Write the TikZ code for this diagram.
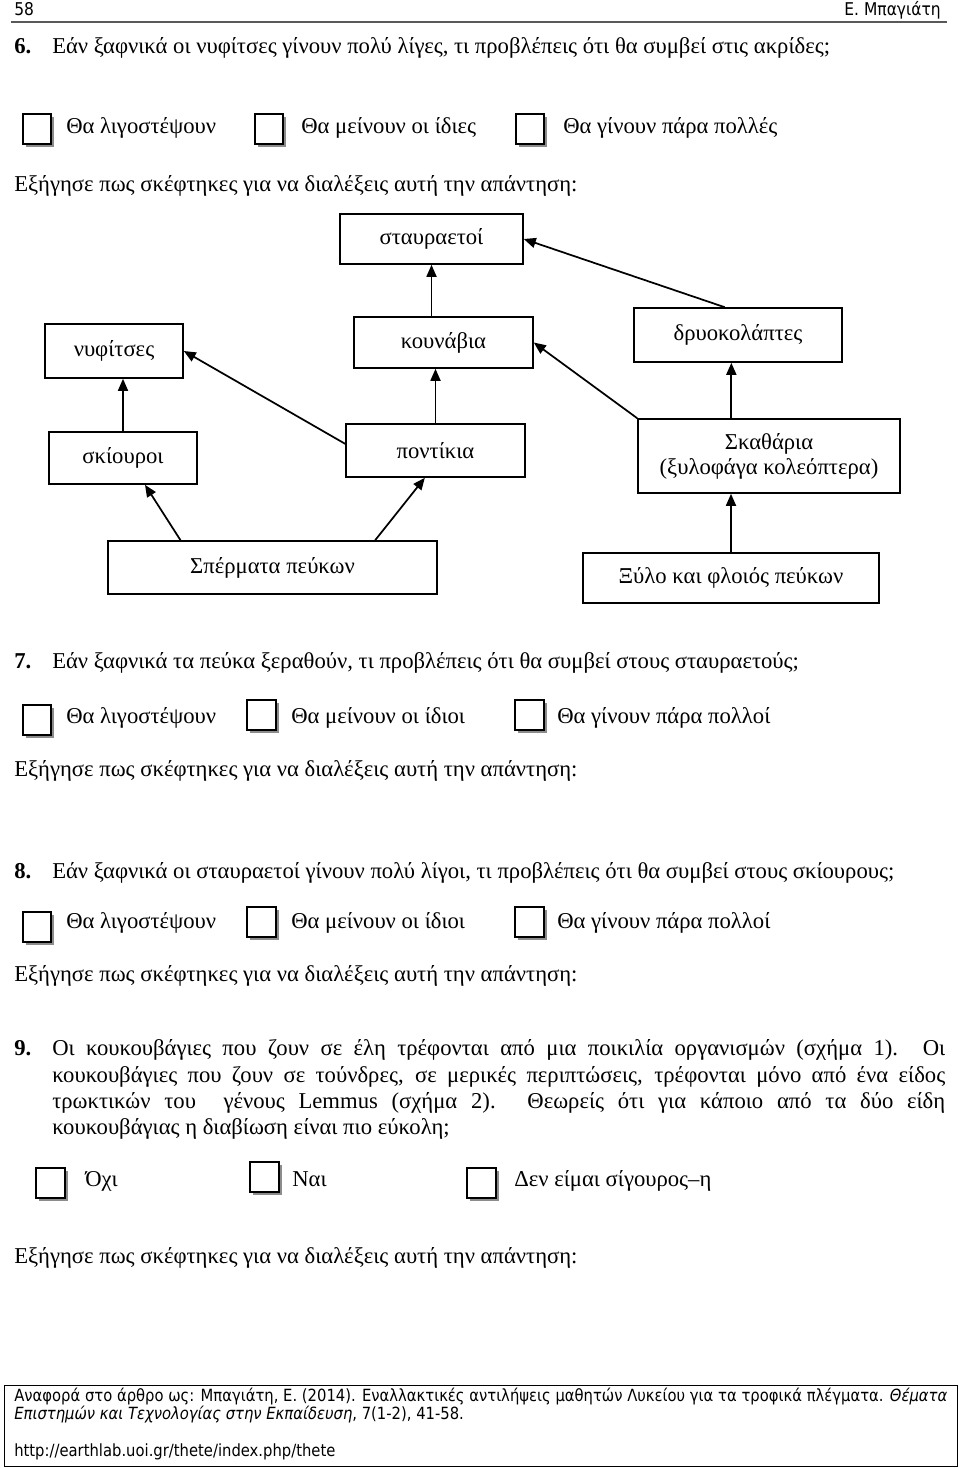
\documentclass[tikz,border=0pt]{standalone}
\usepackage{fontspec}
\setmainfont{Liberation Serif}
\newfontfamily\citefont[FakeStretch=0.88]{DejaVu Sans}
\usetikzlibrary{positioning,arrows.meta,shadows}

\tikzset{
  fwbox/.style={draw,line width=1.2pt,align=center,inner sep=0pt,font=\fontsize{17}{18.75}\selectfont},
  feeds/.style={-{Triangle[length=9pt,width=7.5pt]},line width=1.3pt},
  tickbox/.style={draw,line width=1.3pt,fill=white,minimum width=21.5pt,minimum height=22pt,inner sep=0pt,
    drop shadow={shadow xshift=2.2pt,shadow yshift=-2.2pt,fill=black!45,opacity=1}},
  txt/.style={inner sep=0pt,anchor=mid west,yshift=-1.5pt,font=\fontsize{17}{20}\selectfont},
  qnum/.style={txt,font=\fontsize{17}{20}\selectfont\bfseries},
  citetxt/.style={inner sep=0pt,anchor=mid west,font=\citefont\fontsize{12.6}{15}\selectfont},
}

\begin{document}
\begin{tikzpicture}[x=0.75pt,y=-0.75pt]
  \useasboundingbox (0,0) rectangle (960,1468);

  % page head
  \node[inner sep=0pt,anchor=mid west,font=\citefont\fontsize{13.2}{15}\selectfont] (pageno) at (14,12) {58};
  \node[inner sep=0pt,anchor=mid east,font=\citefont\fontsize{13.2}{15}\selectfont] (author) at (941,12) {Ε. Μπαγιάτη};
  \draw[black!65,line width=0.9pt] (11,22) -- (947,22);

  % question 6
  \node[qnum] (n6) at (14,48) {6.};
  \node[txt] (q6) at (52,48) {Εάν ξαφνικά οι νυφίτσες γίνουν πολύ λίγες, τι προβλέπεις ότι θα συμβεί στις ακρίδες;};
  \node[tickbox] (c6a) at (37,129) {};
  \node[tickbox] (c6b) at (269,129) {};
  \node[tickbox] (c6c) at (530,129) {};
  \node[txt] (a6a) at (66,128) {Θα λιγοστέψουν};
  \node[txt] (a6b) at (301,128) {Θα μείνουν οι ίδιες};
  \node[txt] (a6c) at (563,128) {Θα γίνουν πάρα πολλές};
  \node[txt] (e6) at (14,186) {Εξήγησε πως σκέφτηκες για να διαλέξεις αυτή την απάντηση:};

  % food web
  \node[fwbox,minimum width=137.25pt,minimum height=37.5pt] (eagles) at (431.5,239) {σταυραετοί};
  \node[fwbox,minimum width=134.25pt,minimum height=38.25pt] (martens) at (443.5,342.5) {κουνάβια};
  \node[fwbox,minimum width=103.5pt,minimum height=40.5pt] (weasels) at (114,351) {νυφίτσες};
  \node[fwbox,minimum width=156pt,minimum height=40.5pt] (woodpk) at (738,335) {δρυοκολάπτες};
  \node[fwbox,minimum width=111pt,minimum height=39pt] (squirrels) at (123,458) {σκίουροι};
  \node[fwbox,minimum width=134.25pt,minimum height=39.75pt] (mice) at (435.5,450.5) {ποντίκια};
  \node[fwbox,minimum width=196.5pt,minimum height=55.5pt] (beetles) at (769,456) {Σκαθάρια\\(ξυλοφάγα κολεόπτερα)};
  \node[fwbox,minimum width=246.75pt,minimum height=39.75pt] (seeds) at (272.5,567.5) {Σπέρματα πεύκων};
  \node[fwbox,minimum width=222pt,minimum height=37.5pt] (wood) at (731,578) {Ξύλο και φλοιός πεύκων};

  \draw[feeds] (eagles.south |- martens.north) -- (eagles.south);
  \draw[feeds] ([xshift=-10pt]woodpk.north) -- (eagles.east);
  \draw[feeds] ([yshift=5pt]mice.west) -- (weasels.east);
  \draw[feeds] (squirrels.north) -- (squirrels.north |- weasels.south);
  \draw[feeds] (mice.north) -- (mice.north |- martens.south);
  \draw[feeds] (beetles.north west) -- (martens.east);
  \draw[feeds] ([xshift=-5pt]woodpk.south |- beetles.north) -- ([xshift=-5pt]woodpk.south);
  \draw[feeds] ([xshift=-69pt]seeds.north) -- ([xshift=16.5pt]squirrels.south);
  \draw[feeds] ([xshift=77pt]seeds.north) -- ([xshift=-8pt]mice.south);
  \draw[feeds] (wood.north) -- (wood.north |- beetles.south);

  % question 7
  \node[qnum] (n7) at (14,663) {7.};
  \node[txt] (q7) at (52,663) {Εάν ξαφνικά τα πεύκα ξεραθούν, τι προβλέπεις ότι θα συμβεί στους σταυραετούς;};
  \node[tickbox] (c7a) at (37,720) {};
  \node[tickbox] (c7b) at (261.5,715) {};
  \node[tickbox] (c7c) at (529.5,715) {};
  \node[txt] (a7a) at (66,718) {Θα λιγοστέψουν};
  \node[txt] (a7b) at (291,718) {Θα μείνουν οι ίδιοι};
  \node[txt] (a7c) at (557,718) {Θα γίνουν πάρα πολλοί};
  \node[txt] (e7) at (14,771) {Εξήγησε πως σκέφτηκες για να διαλέξεις αυτή την απάντηση:};

  % question 8
  \node[qnum] (n8) at (14,873) {8.};
  \node[txt] (q8) at (52,873) {Εάν ξαφνικά οι σταυραετοί γίνουν πολύ λίγοι, τι προβλέπεις ότι θα συμβεί στους σκίουρους;};
  \node[tickbox] (c8a) at (37,927) {};
  \node[tickbox] (c8b) at (261.5,922) {};
  \node[tickbox] (c8c) at (529.5,922) {};
  \node[txt] (a8a) at (66,923) {Θα λιγοστέψουν};
  \node[txt] (a8b) at (291,923) {Θα μείνουν οι ίδιοι};
  \node[txt] (a8c) at (557,923) {Θα γίνουν πάρα πολλοί};
  \node[txt] (e8) at (14,976) {Εξήγησε πως σκέφτηκες για να διαλέξεις αυτή την απάντηση:};

  % question 9
  \node[qnum] (n9) at (14,1050) {9.};
  \node[txt] (q9a) at (52,1050) {\makebox[669.75pt][s]{Οι κουκουβάγιες που ζουν σε έλη τρέφονται από μια ποικιλία οργανισμών (σχήμα 1). Οι}};
  \node[txt] (q9b) at (52,1077) {\makebox[669.75pt][s]{κουκουβάγιες που ζουν σε τούνδρες, σε μερικές περιπτώσεις, τρέφονται μόνο από ένα είδος}};
  \node[txt] (q9c) at (52,1103) {\makebox[669.75pt][s]{τρωκτικών του\ \ γένους Lemmus (σχήμα 2). Θεωρείς ότι για κάποιο από τα δύο είδη}};
  \node[txt] (q9d) at (52,1129) {κουκουβάγιας η διαβίωση είναι πιο εύκολη;};
  \node[tickbox] (c9a) at (50.5,1183) {};
  \node[tickbox] (c9b) at (264.5,1177) {};
  \node[tickbox] (c9c) at (481.5,1183) {};
  \node[txt] (a9a) at (85,1181) {Όχι};
  \node[txt] (a9b) at (292,1181) {Ναι};
  \node[txt] (a9c) at (514,1181) {Δεν είμαι σίγουρος–η};
  \node[txt] (e9) at (14,1258) {Εξήγησε πως σκέφτηκες για να διαλέξεις αυτή την απάντηση:};

  % reference box
  \node[draw,line width=1pt,minimum width=714.75pt,minimum height=60.75pt,inner sep=0pt,anchor=north west] (refbox) at (4,1385) {};
  \node[citetxt] (ref1) at (14,1398) {Αναφορά στο άρθρο ως: Μπαγιάτη, Ε. (2014). Εναλλακτικές αντιλήψεις μαθητών Λυκείου για τα τροφικά πλέγματα. \textit{Θέματα}};
  \node[citetxt] (ref2) at (14,1416) {\textit{Επιστημών και Τεχνολογίας στην Εκπαίδευση}, 7(1-2), 41-58.};
  \node[citetxt] (ref3) at (14,1453) {http://earthlab.uoi.gr/thete/index.php/thete};
\end{tikzpicture}
\end{document}
